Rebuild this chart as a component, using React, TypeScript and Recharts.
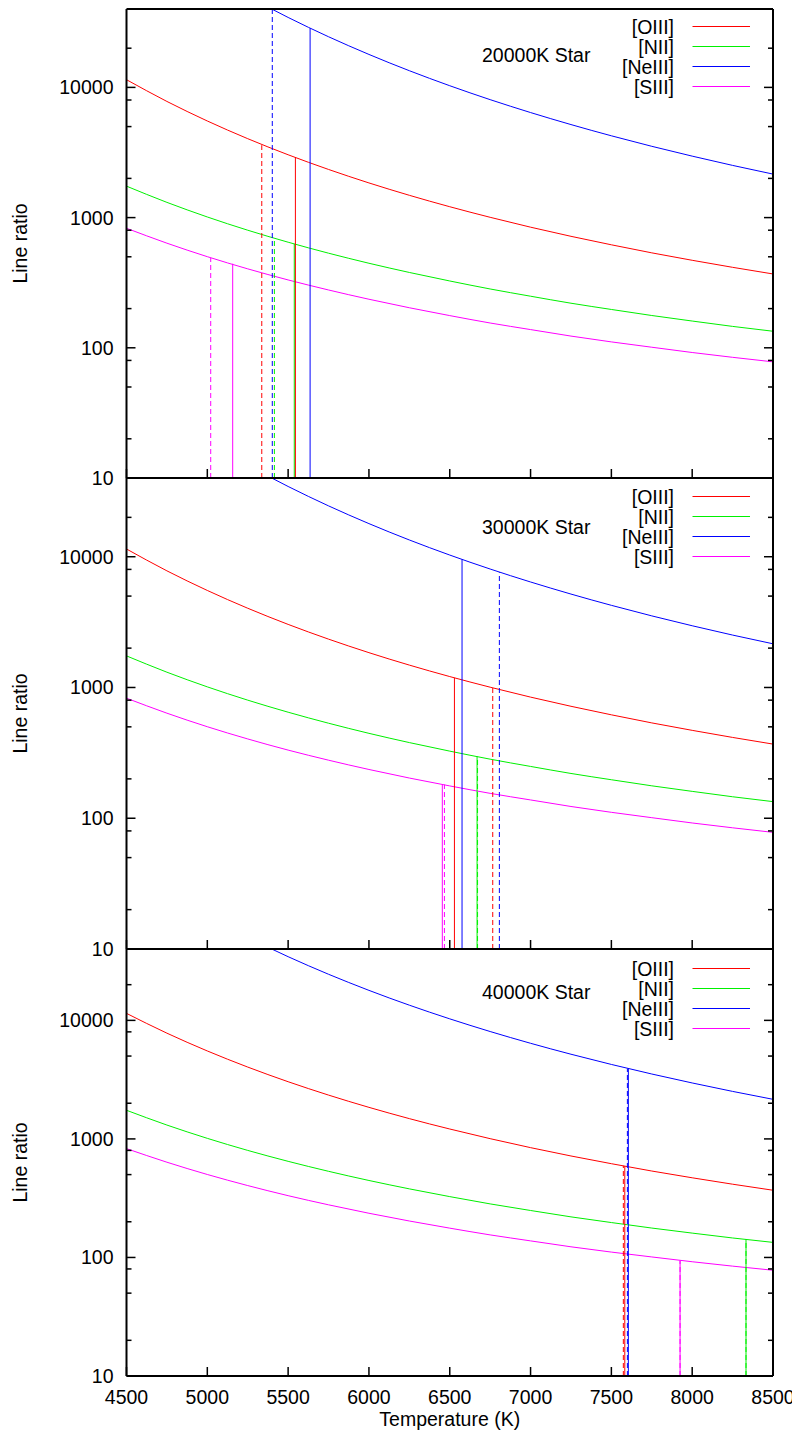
import React from "react";
import { LineChart, Line, XAxis, YAxis, ReferenceLine } from "recharts";

// Line ratios of the four forbidden lines vs electron temperature
const temperatures = [4500, 4750, 5000, 5250, 5500, 5750, 6000, 6250, 6500, 6750, 7000, 7250, 7500, 7750, 8000, 8250, 8500];
const oiiiRatio = [11456, 7800, 5520, 4037, 3037, 2343, 1846, 1483, 1212, 1005, 844, 718, 618, 536, 470, 415, 369];
const niiRatio = [1744, 1309, 1011, 800, 647, 533, 446, 379, 326, 283, 249, 220, 197, 177, 160.5, 146, 134];
const neiiiRatio = [null, null, null, 50060, 34450, 24490, 17912, 13432, 10298, 8052, 6408, 5181, 4248, 3528, 2965, 2517, 2158];
const siiiRatio = [828, 636, 501, 404, 332, 278, 236, 203, 176.7, 155, 138, 123, 111, 101, 92, 84.5, 78];

const seriesKeys = ["oiii", "nii", "neiii", "siii"] as const;
const seriesNames = ["[OIII]", "[NII]", "[NeIII]", "[SIII]"];
const seriesColors = ["#ff0000", "#00f000", "#0000ff", "#ff00ff"];

type Key = (typeof seriesKeys)[number];
type Marker = { line: Key; t: number; ratio: number; dashed: boolean };

// derived temperatures for each star model (solid / dashed)
const markers20k: Marker[] = [
    { line: "siii", t: 5021, ratio: 490, dashed: true },
    { line: "siii", t: 5157, ratio: 442, dashed: false },
    { line: "oiii", t: 5337, ratio: 3600, dashed: true },
    { line: "neiii", t: 5402, ratio: 39700, dashed: true },
    { line: "nii", t: 5415, ratio: 697, dashed: true },
    { line: "nii", t: 5538, ratio: 628, dashed: false },
    { line: "oiii", t: 5545, ratio: 2920, dashed: false },
    { line: "neiii", t: 5636, ratio: 28500, dashed: false },
];
const markers30k: Marker[] = [
    { line: "siii", t: 6454, ratio: 181, dashed: false },
    { line: "siii", t: 6467, ratio: 181, dashed: true },
    { line: "oiii", t: 6529, ratio: 1185, dashed: false },
    { line: "neiii", t: 6576, ratio: 9550, dashed: false },
    { line: "nii", t: 6669, ratio: 296, dashed: false },
    { line: "nii", t: 6672, ratio: 296, dashed: true },
    { line: "oiii", t: 6766, ratio: 995, dashed: true },
    { line: "neiii", t: 6807, ratio: 7600, dashed: true },
];
const markers40k: Marker[] = [
    { line: "oiii", t: 7574, ratio: 593, dashed: true },
    { line: "oiii", t: 7583, ratio: 590, dashed: false },
    { line: "neiii", t: 7599, ratio: 3920, dashed: true },
    { line: "neiii", t: 7605, ratio: 3900, dashed: false },
    { line: "siii", t: 7925, ratio: 94, dashed: false },
    { line: "siii", t: 7925, ratio: 94, dashed: true },
    { line: "nii", t: 8333, ratio: 142, dashed: false },
    { line: "nii", t: 8333, ratio: 142, dashed: true },
];

const xTicks = [4500, 5000, 5500, 6000, 6500, 7000, 7500, 8000, 8500];
const yMajor = [10, 100, 1000, 10000];
const yTicks = [10, 20, 50, 80, 100, 200, 500, 800, 1000, 2000, 5000, 8000, 10000, 20000];

const rows = temperatures.map((t, i) => ({
    t,
    oiii: oiiiRatio[i],
    nii: niiRatio[i],
    neiii: neiiiRatio[i],
    siii: siiiRatio[i],
}));

const W = 784;
const H = 1430;
const FONT = "'Liberation Sans', Arial, Helvetica, sans-serif";
const FS = 19.5;

// plot boxes, container coordinates
const panels = [
    { title: "20000K Star", top: 1, bottom: 470, titleDy: 46, keyDy: 17.5, markers: markers20k, xLabels: false },
    { title: "30000K Star", top: 470, bottom: 941, titleDy: 48.5, keyDy: 18.5, markers: markers30k, xLabels: false },
    { title: "40000K Star", top: 941, bottom: 1368, titleDy: 43, keyDy: 19.5, markers: markers40k, xLabels: true },
];

const LeftTick = (props: any) => {
    const { x, y, payload } = props;
    const major = yMajor.includes(payload.value);
    return (
        <g>
            <line x1={x} x2={x + (major ? 9 : 5)} y1={y} y2={y} stroke="#000" strokeWidth={1.5} />
            {major && (
                <text x={x - 13} y={y} textAnchor="end" dominantBaseline="central" fontSize={FS} fontFamily={FONT} fill="#000">
                    {payload.value}
                </text>
            )}
        </g>
    );
};

const RightTick = (props: any) => {
    const { x, y, payload } = props;
    const major = yMajor.includes(payload.value);
    return <line x1={x} x2={x - (major ? 9 : 5)} y1={y} y2={y} stroke="#000" strokeWidth={1.5} />;
};

const TopTick = (props: any) => {
    const { x, y } = props;
    return <line x1={x} x2={x} y1={y} y2={y + 9} stroke="#000" strokeWidth={1.5} />;
};

const makeBottomTick = (showLabel: boolean) => (props: any) => {
    const { x, y, payload } = props;
    return (
        <g>
            <line x1={x} x2={x} y1={y} y2={y - 9} stroke="#000" strokeWidth={1.5} />
            {showLabel && (
                <text x={x} y={y + 21} textAnchor="middle" dominantBaseline="central" fontSize={FS} fontFamily={FONT} fill="#000">
                    {payload.value}
                </text>
            )}
        </g>
    );
};

const border = { stroke: "#000", strokeWidth: 2 };

function Panel({ p }: { p: (typeof panels)[number] }) {
    return (
        <div style={{ position: "absolute", left: 0, top: 0 }}>
            <LineChart width={W} height={H} data={rows} margin={{ top: p.top - 1, right: 0, bottom: H - p.bottom - 1, left: 0 }}>
                <XAxis
                    xAxisId="b"
                    dataKey="t"
                    type="number"
                    domain={[4500, 8500]}
                    ticks={xTicks}
                    interval={0}
                    allowDataOverflow
                    height={1}
                    tickSize={0}
                    tickMargin={0}
                    tickLine={false}
                    axisLine={border}
                    tick={makeBottomTick(p.xLabels)}
                    label={
                        p.xLabels
                            ? { value: "Temperature (K)", position: "bottom", offset: 35, fontSize: FS, fontFamily: FONT, fill: "#000" }
                            : undefined
                    }
                />
                <XAxis
                    xAxisId="t"
                    orientation="top"
                    type="number"
                    domain={[4500, 8500]}
                    ticks={xTicks}
                    interval={0}
                    allowDataOverflow
                    height={1}
                    tickSize={0}
                    tickMargin={0}
                    tickLine={false}
                    axisLine={border}
                    tick={TopTick}
                />
                <YAxis
                    yAxisId="l"
                    type="number"
                    scale="log"
                    domain={[10, 40000]}
                    ticks={yTicks}
                    interval={0}
                    allowDataOverflow
                    width={118.5}
                    tickSize={0}
                    tickMargin={0}
                    tickLine={false}
                    axisLine={border}
                    tick={LeftTick}
                    label={{
                        value: "Line ratio",
                        angle: -90,
                        position: "insideLeft",
                        offset: 12,
                        fontSize: FS,
                        fontFamily: FONT,
                        fill: "#000",
                        style: { textAnchor: "middle" },
                    }}
                />
                <YAxis
                    yAxisId="r"
                    orientation="right"
                    type="number"
                    scale="log"
                    domain={[10, 40000]}
                    ticks={yTicks}
                    interval={0}
                    allowDataOverflow
                    width={19}
                    tickSize={0}
                    tickMargin={0}
                    tickLine={false}
                    axisLine={border}
                    tick={RightTick}
                />
                {seriesKeys.map((k, i) => (
                    <Line
                        key={k}
                        xAxisId="b"
                        yAxisId="l"
                        type="monotone"
                        dataKey={k}
                        stroke={seriesColors[i]}
                        strokeWidth={1}
                        dot={false}
                        activeDot={false}
                        isAnimationActive={false}
                    />
                ))}
                {p.markers.map((m, i) => (
                    <ReferenceLine
                        key={i}
                        xAxisId="b"
                        yAxisId="l"
                        ifOverflow="visible"
                        segment={[
                            { x: m.t, y: 10 },
                            { x: m.t, y: m.ratio },
                        ]}
                        stroke={seriesColors[seriesKeys.indexOf(m.line)]}
                        strokeWidth={1}
                        strokeDasharray={m.dashed ? "5 3" : undefined}
                    />
                ))}
            </LineChart>
        </div>
    );
}

export default function App() {
    return (
        <div style={{ position: "relative", width: W, height: 1422, fontFamily: FONT }}>
            <style>{".recharts-surface{overflow:visible} body{overflow:hidden}"}</style>
            {panels.map((p) => (
                <Panel key={p.title} p={p} />
            ))}
            {/* panel captions and key */}
            <svg width={W} height={H} style={{ position: "absolute", left: 0, top: 0, overflow: "visible", pointerEvents: "none" }}>
                {panels.map((p) => (
                    <g key={p.title}>
                        <text x={474} y={p.top + p.titleDy} dominantBaseline="central" fontSize={FS} fontFamily={FONT} fill="#000">
                            {p.title}
                        </text>
                        {seriesNames.map((name, i) => (
                            <g key={name}>
                                <text
                                    x={666}
                                    y={p.top + p.keyDy + 20 * i}
                                    textAnchor="end"
                                    dominantBaseline="central"
                                    fontSize={FS}
                                    fontFamily={FONT}
                                    fill="#000"
                                >
                                    {name}
                                </text>
                                <line
                                    x1={684.5}
                                    x2={742}
                                    y1={p.top + p.keyDy + 20 * i}
                                    y2={p.top + p.keyDy + 20 * i}
                                    stroke={seriesColors[i]}
                                    strokeWidth={1}
                                />
                            </g>
                        ))}
                    </g>
                ))}
            </svg>
        </div>
    );
}
